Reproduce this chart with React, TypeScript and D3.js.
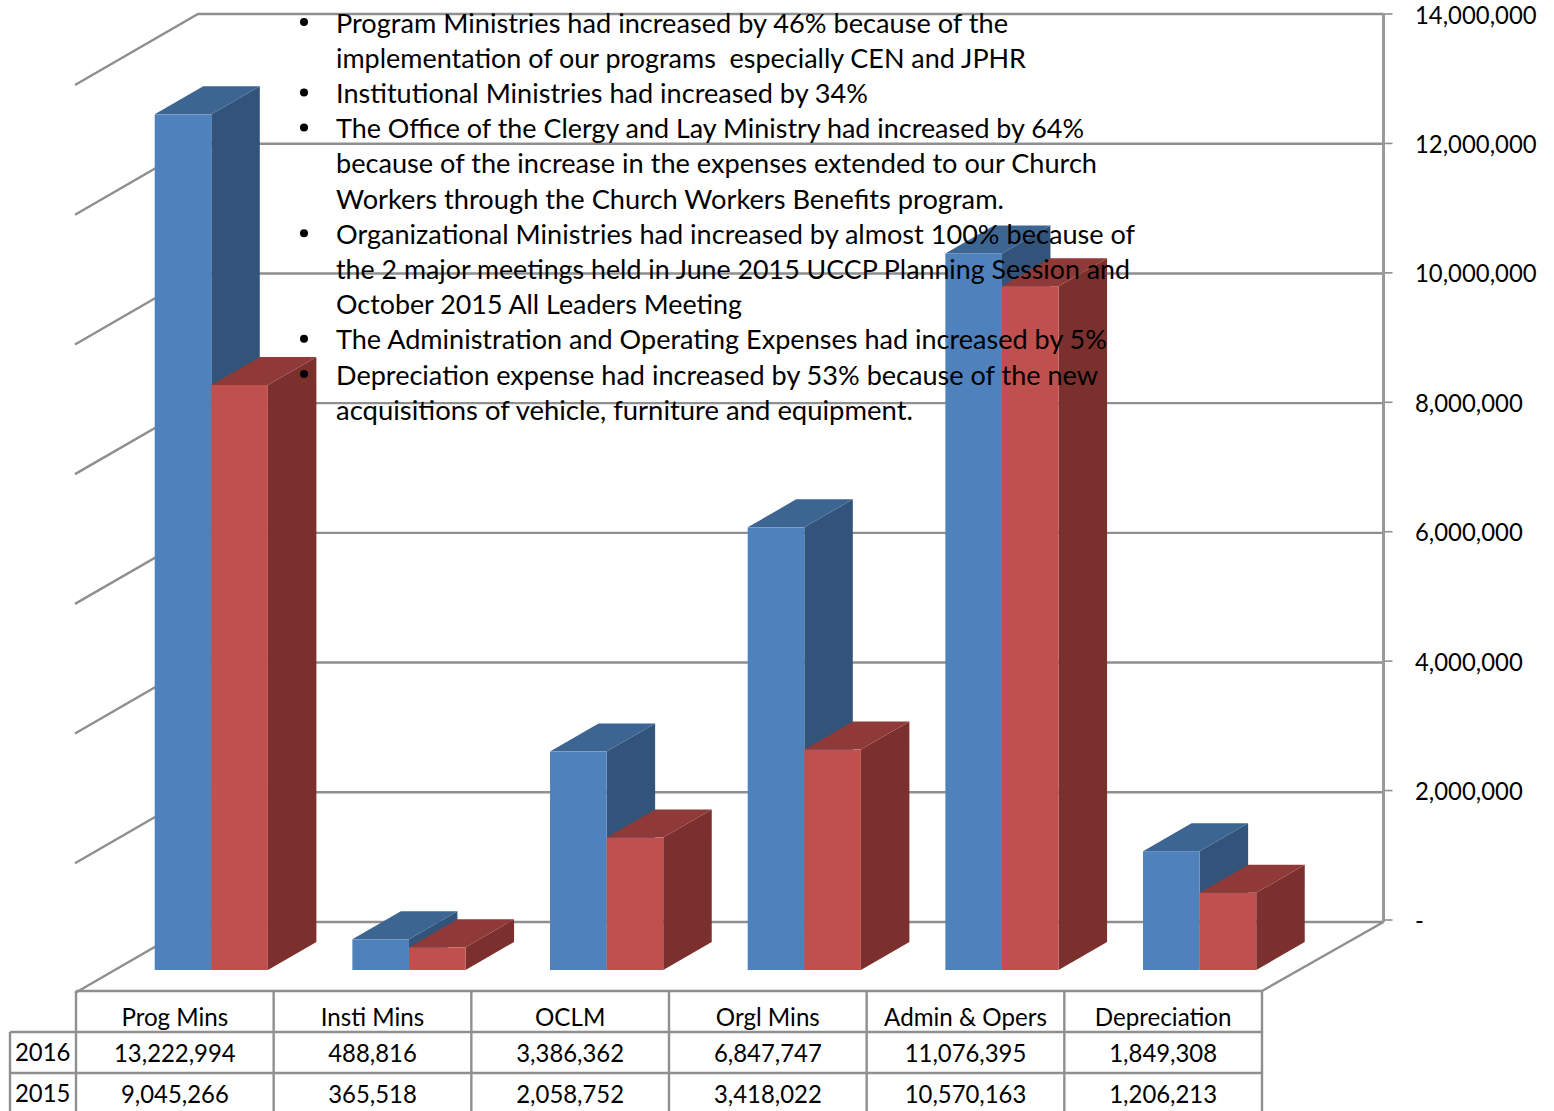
import React from "react";
import * as d3 from "d3";

const categories = ["Prog Mins", "Insti Mins", "OCLM", "Orgl Mins", "Admin & Opers", "Depreciation"];
const values2016 = [13222994, 488816, 3386362, 6847747, 11076395, 1849308];
const values2015 = [9045266, 365518, 2058752, 3418022, 10570163, 1206213];
const yTicks = [0, 2000000, 4000000, 6000000, 8000000, 10000000, 12000000, 14000000];

// bullet = true starts a new bullet point
const notes = [
  { text: "Program Ministries had increased by 46% because of the", bullet: true },
  { text: "implementation of our programs  especially CEN and JPHR", bullet: false },
  { text: "Institutional Ministries had increased by 34%", bullet: true },
  { text: "The Office of the Clergy and Lay Ministry had increased by 64%", bullet: true },
  { text: "because of the increase in the expenses extended to our Church", bullet: false },
  { text: "Workers through the Church Workers Benefits program.", bullet: false },
  { text: "Organizational Ministries had increased by almost 100% because of", bullet: true },
  { text: "the 2 major meetings held in June 2015 UCCP Planning Session and", bullet: false },
  { text: "October 2015 All Leaders Meeting", bullet: false },
  { text: "The Administration and Operating Expenses had increased by 5%", bullet: true },
  { text: "Depreciation expense had increased by 53% because of the new", bullet: true },
  { text: "acquisitions of vehicle, furniture and equipment.", bullet: false },
];
// width of each note line, so the substitute font wraps up where the original did
const noteWidths = [672, 690, 532, 748, 761, 668, 799, 794, 406, 771, 762, 577];

const width = 1554, height = 1111;
const wallLeft = 198, wallRight = 1383.5;
const floorLeft = 76, floorRight = 1262, floorFront = 991;
const baseY = 970;
const barW = 56.6, depthX = 48.5, depthY = 28;
const gridColor = "#8f8f8f";
const font = "Lato, Carlito, sans-serif";

// ticks and labels
const y = d3.scaleLinear().domain([0, 14000000]).range([920, 14]);
// the wall gridlines sit a touch lower than the ticks near the bottom
const yGrid = d3.scaleLinear().domain([0, 14000000]).range([922, 14]);
// bar tops, drawn on the front plane
const yBar = d3.scaleLinear().domain([0, 14000000]).range([971, 64]);
const x = d3.scaleBand<string>().domain(categories).range([floorLeft, floorRight]);
const fmt = d3.format(",");

const blue = { front: "#4f81bd", side: "#32537a", top: "#3d6592" };
const red = { front: "#c0504d", side: "#7c302e", top: "#8f3a38" };

// Lato stands in for Calibri, so the size and width are adjusted a little
const Txt = ({ x, y, children, anchor = "start", size = 24.5, k = 0.986 }: any) => (
  <text
    transform={`translate(${x},${y}) scale(${k},1)`}
    textAnchor={anchor}
    fontFamily={font}
    fontSize={size}
    fill="#000"
    xmlSpace="preserve"
  >
    {children}
  </text>
);

const Bar = ({ x0, value, c }: any) => {
  const top = yBar(value);
  const pts = (p: number[][]) => p.map(d => d.join(",")).join(" ");
  return (
    <g>
      <polygon
        points={pts([[x0 + barW, baseY], [x0 + barW + depthX, baseY - depthY], [x0 + barW + depthX, top - depthY], [x0 + barW, top]])}
        fill={c.side}
      />
      <polygon
        points={pts([[x0, top], [x0 + depthX, top - depthY], [x0 + barW + depthX, top - depthY], [x0 + barW, top]])}
        fill={c.top}
      />
      <rect x={x0} y={top} width={barW} height={baseY - top} fill={c.front} />
    </g>
  );
};

export default function App() {
  const step = x.step();
  const rows = [
    { label: "2016", values: values2016, yText: 1062 },
    { label: "2015", values: values2015, yText: 1103 },
  ];
  return (
    <svg width={width} height={height} style={{ position: "absolute", left: 0, top: 0, background: "#fff" }}>
      {/* walls */}
      <g stroke={gridColor} strokeWidth={2.4} fill="none">
        {yTicks.map(t => (
          <path
            key={t}
            d={`M75,${yGrid(t) + 71}L${wallLeft},${yGrid(t)}L${wallRight},${yGrid(t)}`}
          />
        ))}
        {yTicks.map(t => (
          <line key={t} x1={wallRight} x2={wallRight + 9} y1={y(t)} y2={y(t)} strokeWidth={1.6} />
        ))}
        <line x1={wallRight} x2={wallRight} y1={y(14000000)} y2={yGrid(0)} strokeWidth={3} stroke="#999" />
        <line x1={floorRight} y1={floorFront} x2={wallRight} y2={yGrid(0)} />
      </g>

      {/* bars */}
      {categories.map((c, i) => {
        const x0 = (x(c) as number) + 78.7;
        return (
          <g key={c}>
            <Bar x0={x0} value={values2016[i]} c={blue} />
            <Bar x0={x0 + barW} value={values2015[i]} c={red} />
          </g>
        );
      })}

      {/* y axis labels */}
      {yTicks.map(t => (
        <Txt key={t} x={1415} y={y(t) + 9.5} k={0.975}>{t === 0 ? "-" : fmt(t)}</Txt>
      ))}

      {/* data table */}
      <g stroke={gridColor} strokeWidth={2.4}>
        <line x1={floorLeft} x2={floorRight} y1={floorFront} y2={floorFront} />
        <line x1={10} x2={floorRight} y1={1032} y2={1032} />
        <line x1={10} x2={floorRight} y1={1073} y2={1073} />
        <line x1={10} x2={10} y1={1032} y2={height} />
        {d3.range(categories.length + 1).map(i => (
          <line key={i} x1={floorLeft + i * step} x2={floorLeft + i * step} y1={floorFront} y2={height} />
        ))}
      </g>
      {categories.map((c, i) => (
        <g key={c}>
          <Txt x={(x(c) as number) + step / 2} y={1026} anchor="middle">{c}</Txt>
          {rows.map(r => (
            <Txt key={r.label} x={(x(c) as number) + step / 2} y={r.yText} anchor="middle" k={0.975}>{fmt(r.values[i])}</Txt>
          ))}
        </g>
      ))}
      {rows.map(r => (
        <Txt key={r.label} x={15} y={r.yText - 1} k={0.975}>{r.label}</Txt>
      ))}

      {/* text box laid over the chart */}
      {notes.map((n, i) => {
        const lineY = 32.5 + i * 35.2;
        return (
          <g key={i}>
            {n.bullet && <circle cx={304} cy={lineY - 10.5} r={4} fill="#000" />}
            <text
              x={336}
              y={lineY}
              fontFamily={font}
              fontSize={26.5}
              fill="#000"
              xmlSpace="preserve"
              textLength={noteWidths[i]}
              lengthAdjust="spacingAndGlyphs"
            >
              {n.text}
            </text>
          </g>
        );
      })}
    </svg>
  );
}
